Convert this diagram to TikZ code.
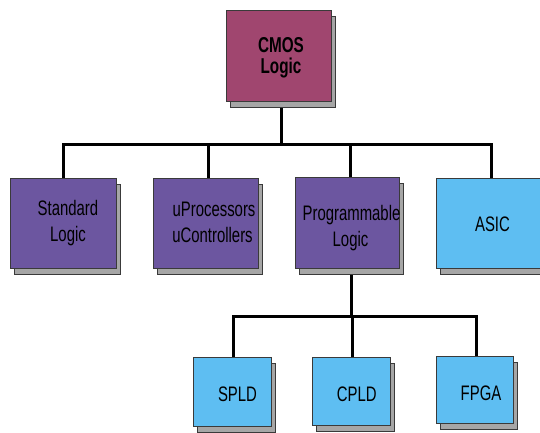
\documentclass[tikz,border=0pt]{standalone}
\usepackage{fontspec}
\setmainfont{Liberation Sans}
\usetikzlibrary{shadows}

\definecolor{rootfill}{HTML}{A0466F}
\definecolor{midfill}{HTML}{6C56A0}
\definecolor{leaffill}{HTML}{5EBEF2}
\definecolor{shadefill}{HTML}{A6A6A6}
\definecolor{edgecol}{HTML}{3A3A3A}

% narrow, tall lettering
\newcommand{\nar}[1]{\scalebox{0.71}[1]{#1}}

\tikzset{
  box/.style={rectangle, draw=edgecol, line width=0.8pt, inner sep=0pt, outer sep=0pt,
    copy shadow={shadow xshift=4pt, shadow yshift=-6pt, fill=shadefill, draw=edgecol, line width=0.8pt}},
  rootbox/.style={box, fill=rootfill},
  midbox/.style={box, fill=midfill},
  leafbox/.style={box, fill=leaffill},
  lbl/.style={anchor=base, inner sep=0pt, font=\fontsize{21}{24}\selectfont},
  blbl/.style={lbl, font=\fontsize{21.5}{24}\selectfont\bfseries},
  conn/.style={draw=black, line width=3pt, line join=miter}
}

\begin{document}
\begin{tikzpicture}[x=1pt, y=-1pt]
  \useasboundingbox[fill=white] (0,0) rectangle (540,432);

  % bus positions
  \coordinate (topbus) at (0,144.3);
  \coordinate (lowbus) at (0,316);

  % box outlines (named) placed first so connectors can reference them
  \path
    node[rootbox, minimum width=105pt, minimum height=91pt] (cmos) at (278.5,55.5) {}
    node[midbox,  minimum width=106pt, minimum height=90pt] (std)  at (63,223) {}
    node[midbox,  minimum width=105pt, minimum height=90pt] (up)   at (205.5,223) {}
    node[midbox,  minimum width=104pt, minimum height=91pt] (prog) at (347,222.5) {}
    node[leafbox, minimum width=106pt, minimum height=90pt] (asic) at (489,223) {}
    node[leafbox, minimum width=78pt,  minimum height=69pt] (spld) at (232,391.5) {}
    node[leafbox, minimum width=78pt,  minimum height=68pt] (cpld) at (351,391) {}
    node[leafbox, minimum width=77pt,  minimum height=67pt] (fpga) at (474.5,389.5) {};

  % upper tree
  \draw[conn] ([xshift=2.5pt]cmos.south) -- ([xshift=2.5pt]cmos.south |- topbus);
  \draw[conn] ([xshift=0.3pt]std.north) -- ([xshift=0.3pt]std.north |- topbus)
              -- ([xshift=2pt]asic.north |- topbus) -- ([xshift=2pt]asic.north);
  \draw[conn] ([xshift=2.8pt]up.north) -- ([xshift=2.8pt]up.north |- topbus);
  \draw[conn] ([xshift=3.5pt]prog.north) -- ([xshift=3.5pt]prog.north |- topbus);

  % lower tree
  \draw[conn] ([xshift=4pt]prog.south) -- ([xshift=4pt]prog.south |- lowbus);
  \draw[conn] ([xshift=1pt]spld.north) -- ([xshift=1pt]spld.north |- lowbus)
              -- ([xshift=1.5pt]fpga.north |- lowbus) -- ([xshift=1.5pt]fpga.north);
  \draw[conn] ([xshift=1pt]cpld.north) -- ([xshift=1pt]cpld.north |- lowbus);

  % boxes drawn again on top of the connector ends
  \path
    node[rootbox, minimum width=105pt, minimum height=91pt] (cmosf) at (cmos) {}
    node[midbox,  minimum width=106pt, minimum height=90pt] (stdf)  at (std) {}
    node[midbox,  minimum width=105pt, minimum height=90pt] (upf)   at (up) {}
    node[midbox,  minimum width=104pt, minimum height=91pt] (progf) at (prog) {}
    node[leafbox, minimum width=106pt, minimum height=90pt] (asicf) at (asic) {}
    node[leafbox, minimum width=78pt,  minimum height=69pt] (spldf) at (spld) {}
    node[leafbox, minimum width=78pt,  minimum height=68pt] (cpldf) at (cpld) {}
    node[leafbox, minimum width=77pt,  minimum height=67pt] (fpgaf) at (fpga) {};

  % labels
  \node[blbl] (cmos1) at (281,52.3) {\nar{CMOS}};
  \node[blbl] (cmos2) at (281,73.3) {\nar{Logic}};

  \node[lbl] (std1) at (68,215.7) {\nar{Standard}};
  \node[lbl] (std2) at (68,241.7) {\nar{Logic}};

  \node[lbl] (up1) at (214,216) {\nar{uProcessors}};
  \node[lbl] (up2) at (212.5,242) {\nar{uControllers}};

  \node[lbl] (prog1) at (351.5,220.7) {\nar{Programmable}};
  \node[lbl] (prog2) at (350.5,246.7) {\nar{Logic}};

  \node[lbl] (asic1) at (492.5,231.7) {\nar{ASIC}};

  \node[lbl] (spld1) at (237.5,401.7) {\nar{SPLD}};
  \node[lbl] (cpld1) at (356.7,401) {\nar{CPLD}};
  \node[lbl] (fpga1) at (481,400) {\nar{FPGA}};
\end{tikzpicture}
\end{document}
